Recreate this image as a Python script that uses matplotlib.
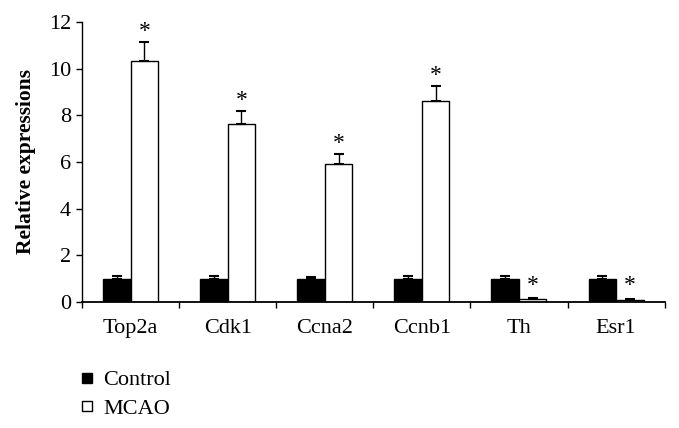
import matplotlib
matplotlib.use("Agg")
import matplotlib.pyplot as plt
import numpy as np
from matplotlib.lines import Line2D

plt.rcParams['font.family'] = ['Liberation Serif', 'DejaVu Serif']

genes = ["Top2a", "Cdk1", "Ccna2", "Ccnb1", "Th", "Esr1"]
control = [1.0, 1.0, 1.0, 1.0, 1.0, 1.0]
control_err = [0.1, 0.1, 0.08, 0.1, 0.1, 0.1]
mcao = [10.33, 7.63, 5.93, 8.63, 0.13, 0.09]
mcao_err = [0.83, 0.57, 0.4, 0.64, 0.02, 0.02]

fig = plt.figure(figsize=(6.79, 4.28), dpi=100)
ax = fig.add_axes([0.1208, 0.2944, 0.858, 0.6542])

x = np.arange(len(genes))
w = 0.283
zeros = [0] * len(genes)
ax.bar(x - w / 2, control, w, color='black', edgecolor='black', linewidth=1,
       yerr=[zeros, control_err], capsize=3.5, error_kw=dict(elinewidth=1, capthick=1.5, ecolor='black'))
ax.bar(x + w / 2, mcao, w, color='white', edgecolor='black', linewidth=1,
       yerr=[zeros, mcao_err], capsize=3.5, error_kw=dict(elinewidth=1, capthick=1.5, ecolor='black'))

# 显著性星号
for xi, v, e in zip(x, mcao, mcao_err):
    ax.text(xi + w / 2, max(v + e + 0.0, 0.25), "*", ha='center', va='bottom', fontsize=17)

ax.set_xlim(-0.5, len(genes) - 0.5)
ax.set_ylim(0, 12)
ax.set_yticks(range(0, 13, 2))
ax.set_xticks(x)
ax.set_xticklabels(genes)
ax.set_xticks(np.arange(-0.5, len(genes), 1), minor=True)
ax.tick_params(axis='x', which='major', length=0, labelsize=16, pad=12)
ax.tick_params(axis='x', which='minor', length=4, direction='out', width=1)
ax.tick_params(axis='y', labelsize=16, length=4, width=1, pad=4)
ax.spines['top'].set_visible(False)
ax.spines['right'].set_visible(False)
ax.spines['left'].set_linewidth(1)
ax.spines['bottom'].set_linewidth(1.3)
ax.set_ylabel("Relative expressions", fontsize=15.5, fontweight='bold', labelpad=9)

handles = [
    Line2D([], [], marker='s', linestyle='none', markersize=6.5, markerfacecolor='black', markeredgecolor='black'),
    Line2D([], [], marker='s', linestyle='none', markersize=6.5, markerfacecolor='white', markeredgecolor='black'),
]
fig.legend(handles, ["Control", "MCAO"], loc='upper left', bbox_to_anchor=(0.1, 0.162),
           frameon=False, fontsize=16, handlelength=0.7, handletextpad=0.4, labelspacing=0.35,
           borderpad=0)

plt.savefig('out.png', dpi=100)
